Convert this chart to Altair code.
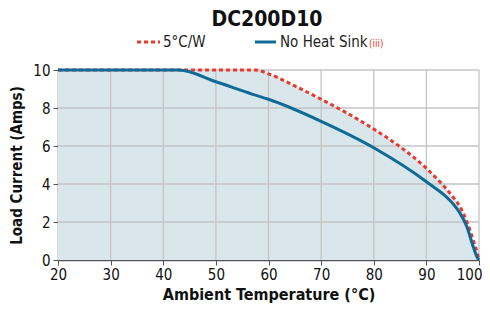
import altair as alt
import pandas as pd

# Data
temp_red = [20, 30, 40, 50, 55, 57.5, 60, 65, 70, 75, 80, 85, 90, 95, 96.4, 97.7, 98.9, 99.7, 100]
load_red = [10, 10, 10, 10, 10, 10, 9.8, 9.16, 8.46, 7.72, 6.89, 5.96, 4.82, 3.33, 2.8, 2.02, 1.05, 0.35, 0]

temp_blue = [20, 30, 40, 43, 50, 57, 60, 70, 80, 90, 95, 96.4, 97.7, 98.9, 99.7, 100]
load_blue = [10, 10, 10, 10, 9.38, 8.72, 8.46, 7.3, 5.91, 4.12, 2.98, 2.46, 1.75, 0.7, 0.12, 0]

x_ticks = [20, 30, 40, 50, 60, 70, 80, 90, 100]
y_ticks = [0, 2, 4, 6, 8, 10]

title_text = "DC200D10"
series_names = ["5°C/W", "No Heat Sink"]
note_text = "(iii)"

FONT = "'Liberation Sans Narrow', 'DejaVu Sans Condensed', 'Roboto Condensed', 'Liberation Sans', sans-serif"
RED = "#e8392f"
BLUE = "#0f6a96"
FILL = "#d9e7ed"
GRID = "#c4c4c4"

red_df = pd.DataFrame({"t": temp_red, "a": load_red})
blue_df = pd.DataFrame({"t": temp_blue, "a": load_blue})
xg_df = pd.DataFrame({"t": x_ticks[1:]})
yg_df = pd.DataFrame({"a": y_ticks[1:]})

xs = alt.Scale(domain=[20, 100], nice=False)
ys = alt.Scale(domain=[0, 10], nice=False)

common = dict(grid=False, domainColor="#555555", domainWidth=1.5,
              tickColor="#555555", tickSize=5, labelFont=FONT, labelFontSize=15,
              labelColor="#111111", titleFont=FONT, titleFontWeight="bold",
              titleColor="#111111", labelOverlap=False, labelFlush=False, labelBound=False)
xax = alt.Axis(values=x_ticks, title="Ambient Temperature (°C)", titlePadding=4,
               titleFontSize=16, labelPadding=2,
               labelAlign=alt.condition("datum.value == 100", alt.value("right"), alt.value("center")),
               labelOffset=alt.condition("datum.value == 100", alt.value(3), alt.value(0)),
               **common)
yax = alt.Axis(values=y_ticks, title="Load Current (Amps)", titlePadding=8,
               titleFontSize=15, labelPadding=3, **common)

X = lambda: alt.X("t:Q", scale=xs, axis=xax)
Y = lambda: alt.Y("a:Q", scale=ys, axis=yax)

area = alt.Chart(red_df).mark_area(color=FILL, interpolate="monotone", opacity=1).encode(
    x=X(), y=Y())
xgrid = alt.Chart(xg_df).mark_rule(color=GRID, strokeWidth=1.3).encode(
    x=X(), y=alt.value(0), y2=alt.value(190))
ygrid = alt.Chart(yg_df).mark_rule(color=GRID, strokeWidth=1.3).encode(
    y=Y(), x=alt.value(0), x2=alt.value(421))
red_line = alt.Chart(red_df).mark_line(color=RED, strokeWidth=3, strokeDash=[4, 3],
                                       interpolate="monotone").encode(x=X(), y=Y())
blue_line = alt.Chart(blue_df).mark_line(color=BLUE, strokeWidth=3,
                                         interpolate="monotone").encode(x=X(), y=Y())

one = pd.DataFrame({"k": [0]})
title = alt.Chart(one).mark_text(font=FONT, fontSize=21, fontWeight="bold", color="#111111",
                                 align="center", baseline="middle").encode(
    x=alt.value(209), y=alt.value(-50), text=alt.value(title_text))
leg_red = alt.Chart(one).mark_rule(color=RED, strokeWidth=3, strokeDash=[4, 3]).encode(
    x=alt.value(79), x2=alt.value(102), y=alt.value(-28))
leg_red_t = alt.Chart(one).mark_text(font=FONT, fontSize=15, color="#222222", align="left",
                                     baseline="middle").encode(
    x=alt.value(105), y=alt.value(-28), text=alt.value(series_names[0]))
leg_blue = alt.Chart(one).mark_rule(color=BLUE, strokeWidth=3).encode(
    x=alt.value(197), x2=alt.value(218), y=alt.value(-28))
leg_blue_t = alt.Chart(one).mark_text(font=FONT, fontSize=15, color="#222222", align="left",
                                      baseline="middle").encode(
    x=alt.value(222), y=alt.value(-28), text=alt.value(series_names[1]))
leg_note = alt.Chart(one).mark_text(font=FONT, fontSize=10, color=RED, align="left",
                                    baseline="middle").encode(
    x=alt.value(311), y=alt.value(-26), text=alt.value(note_text))

chart = alt.layer(area, xgrid, ygrid, red_line, blue_line, title, leg_red, leg_red_t,
                  leg_blue, leg_blue_t, leg_note).properties(
    width=421, height=190,
    autosize=alt.AutoSizeParams(type="none"),
    padding={"left": 50, "top": 62, "right": 3, "bottom": 45},
).configure_view(stroke=None)

chart.save("out.html", embed_options={"renderer": "svg", "actions": False})
